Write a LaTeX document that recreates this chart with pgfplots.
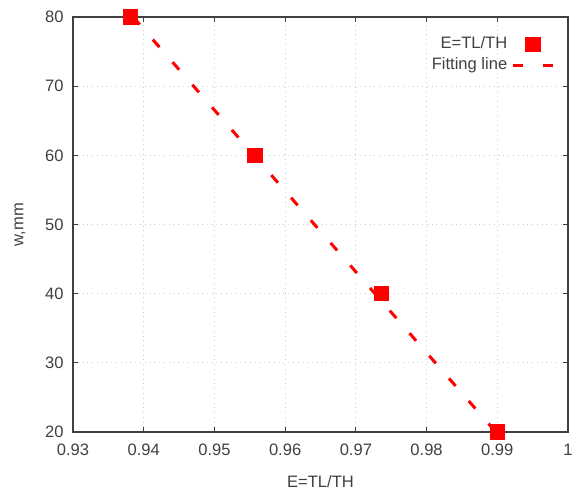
\documentclass[border=0pt]{standalone}
\usepackage{pgfplots}
\pgfplotsset{compat=1.18}
\usepackage{fontspec}
\setmainfont{Liberation Sans}
\begin{document}
\begin{tikzpicture}
\begin{axis}[
  scale only axis,
  width=247.5bp, height=207.5bp,
  xmin=0.93, xmax=1, ymin=20, ymax=80,
  xtick={0.93,0.94,...,1.001},
  ytick={20,30,...,80},
  xticklabels={0.93,0.94,0.95,0.96,0.97,0.98,0.99,1},
  /pgf/number format/assume math mode=true,
  font=\fontsize{8.3}{10}\selectfont,
  tick label style={text=black!75},
  xticklabel style={yshift=-2.5bp},
  yticklabel style={xshift=-1.2bp},
  label style={text=black!75},
  tick align=inside,
  major tick length=2.5bp,
  tick style={black!75, line width=0.6bp},
  axis line style={black!75, line width=0.8bp},
  grid=major,
  grid style={gray!40, dotted, line width=0.4bp},
  xlabel={E=TL/TH},
  ylabel={w,mm},
  xlabel style={yshift=-3bp},
  ylabel style={yshift=3bp},
  legend style={draw=none, fill=none, at={(0.985,0.972)}, anchor=north east,
    font=\fontsize{8.3}{10}\selectfont, text=black!75, row sep=-1bp},
  legend cell align=right,
  legend plot pos=right,
  legend image code/.code={%
    \draw[mark repeat=2,mark phase=2,#1] plot coordinates {(0bp,0bp) (10bp,0bp) (20bp,0bp)};},
]
\addplot[only marks, mark=square*, mark size=3.6bp, red, mark options={fill=red, draw=red}]
  coordinates {(0.9381,80) (0.9557,60) (0.9736,40) (0.9900,20)};
\addlegendentry{E=TL/TH}
\addplot[red, line width=1.5bp, dash pattern=on 5bp off 10bp]
  coordinates {(0.9385,80) (0.9898,20)};
\addlegendentry{Fitting line}
\coordinate (sw) at (rel axis cs:0,0);
\coordinate (ne) at (rel axis cs:1,1);
\end{axis}
\pgfresetboundingbox
\path (sw) ++(-36.5bp,-29bp) rectangle ([shift={(3bp,8.5bp)}]ne);
\end{tikzpicture}
\end{document}
